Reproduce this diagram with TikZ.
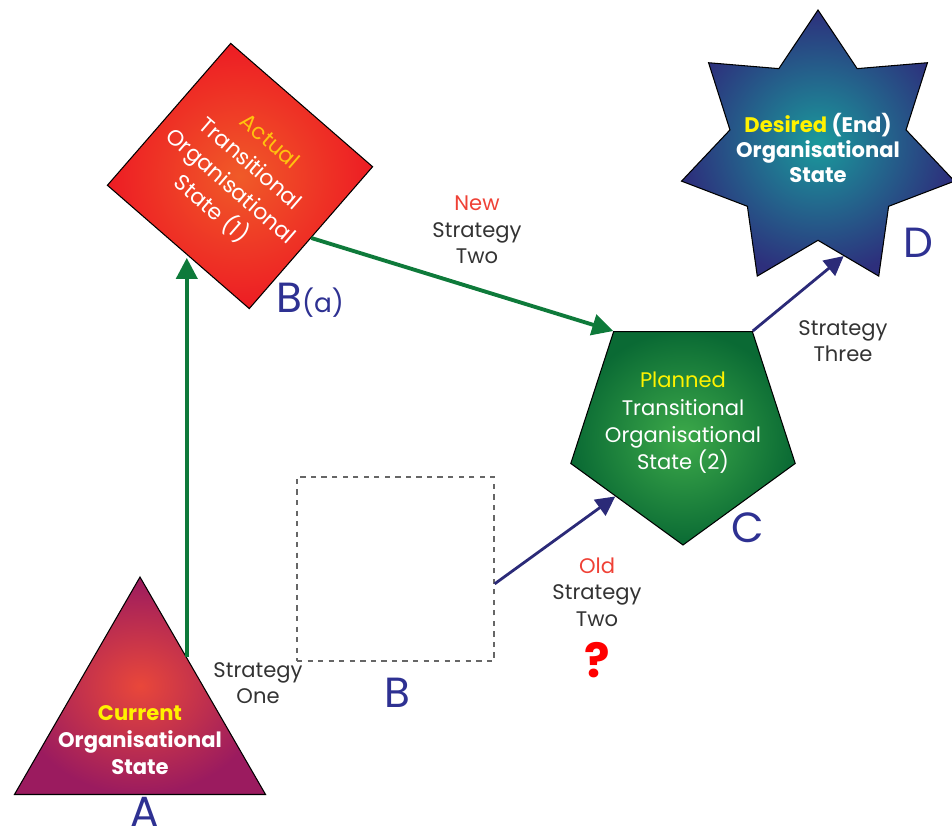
\documentclass[tikz,border=0pt]{standalone}
\usepackage{fontspec}
\setmainfont{Poppins}
\usetikzlibrary{shapes.geometric,arrows.meta,calc}
\definecolor{stratgreen}{HTML}{0E7A3A}
\definecolor{stratnavy}{HTML}{2B2A78}
\definecolor{lettblue}{HTML}{2E3192}
\definecolor{hiyellow}{HTML}{FFF200}
\definecolor{hiorange}{HTML}{FFC20E}
\definecolor{hired}{HTML}{EF4136}
\definecolor{txtgray}{HTML}{333333}
\definecolor{curcenter}{HTML}{E9473A}
\definecolor{curouter}{HTML}{9B1B5F}
\definecolor{actcenter}{HTML}{F05A28}
\definecolor{actouter}{HTML}{ED1C24}
\definecolor{plancenter}{HTML}{3DAA4A}
\definecolor{planouter}{HTML}{0A6A34}
\definecolor{descenter}{HTML}{1A9A9C}
\definecolor{desouter}{HTML}{2D2F7C}

\tikzset{
  statebox/.style={draw=black,line width=0.6pt,shading=radial,inner sep=0pt},
  statetext/.style={text=white,align=center,font=\fontsize{12}{15.5}\selectfont},
  lettlabel/.style={text=lettblue,font=\fontsize{24}{24}\selectfont},
  stratlabel/.style={text=txtgray,align=center,font=\fontsize{12}{15}\selectfont},
  greenarrow/.style={stratgreen,line width=2.2pt,-{Triangle[length=12pt,width=12pt]}},
  navyarrow/.style={stratnavy,line width=1.6pt,-{Triangle[length=11pt,width=11pt]}},
}

\begin{document}
\begin{tikzpicture}[x=0.02cm,y=-0.02cm]
  \useasboundingbox (0,0) rectangle (952,834);

  \node[statebox,regular polygon,regular polygon sides=3,minimum size=5.8cm,
    inner color=curcenter,outer color=curouter] (A) at (140,722) {};
  \node[statetext,font=\bfseries\fontsize{12}{15.5}\selectfont] (Atext) at (140,740)
    {\textcolor{hiyellow}{Current}\\Organisational\\State};

  \node[statebox,rectangle,rotate=-41,minimum size=3.76cm,
    inner color=actcenter,outer color=actouter,statetext,
    font=\fontsize{12.5}{17}\selectfont] (Ba) at (240,176)
    {\textcolor{hiorange}{Actual}\\Transitional\\Organisational\\State (1)};

  \node[draw=gray!80!black,dashed,line width=0.8pt,minimum width=3.94cm,
    minimum height=3.68cm] (B) at (395.5,569) {};

  \node[statebox,regular polygon,regular polygon sides=5,shape border rotate=180,
    minimum size=4.72cm,inner color=plancenter,outer color=planouter] (C) at (683,427) {};
  \node[statetext] (Ctext) at (683,423)
    {\textcolor{hiyellow}{Planned}\\Transitional\\Organisational\\State (2)};

  \node[statebox,star,star points=7,star point ratio=1.55,minimum size=5.6cm,
    inner color=descenter,outer color=desouter] (D) at (818,150) {};
  \node[statetext,font=\bfseries\fontsize{12}{14}\selectfont] (Dtext) at (818,148)
    {\textcolor{hiyellow}{Desired} (End)\\Organisational\\State};

  \node[lettlabel,anchor=base,inner sep=0pt] (Alab) at (145,826) {A};
  \node[lettlabel] (Balab) at (310,300) {B{\fontsize{15}{15}\selectfont(a)}};
  \node[lettlabel] (Blab) at (397,693) {B};
  \node[lettlabel] (Clab) at (748,528) {C};
  \node[lettlabel] (Dlab) at (918,243) {D};

  \node[stratlabel] (oneLab) at (258,683) {Strategy\\One};
  \node[stratlabel] (newLab) at (477,230) {\textcolor{hired}{New}\\Strategy\\Two};
  \node[stratlabel] (oldLab) at (597,592) {\textcolor{hired}{Old}\\Strategy\\Two};
  \node[text=red,font=\bfseries\fontsize{27}{27}\selectfont] (qmark) at (597,660) {?};
  \node[stratlabel] (threeLab) at (843,341) {Strategy\\Three};

  \coordinate (oneStart) at ($(A.corner 1)!0.37!(A.corner 3)$);
  \coordinate (oldEnd) at ($(C.corner 5)!0.4!(C.corner 1)$);
  \coordinate (threeEnd) at ($(D.inner point 4)!0.42!(D.outer point 5)$);

  \draw[greenarrow,shorten >=6pt] (oneStart) -- (oneStart |- Ba.south);
  \draw[greenarrow] (Ba.east) -- (C.corner 4);
  \draw[navyarrow] ($(B.north east)!0.58!(B.south east)$) -- (oldEnd);
  \draw[navyarrow] (C.corner 3) -- (threeEnd);
\end{tikzpicture}
\end{document}
